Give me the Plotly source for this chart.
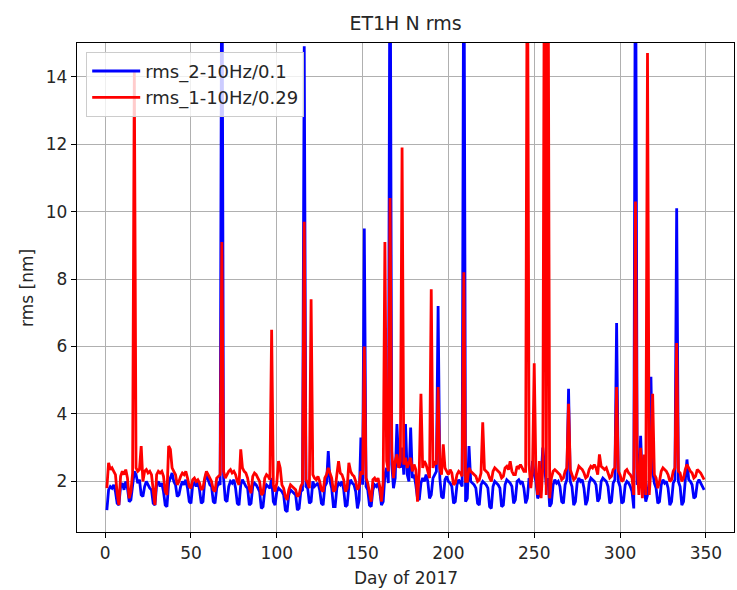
import plotly.graph_objects as go

days = list(range(1, 350))

blue_rms_2_10 = [
    1.15, 1.75, 1.85, 1.80, 1.90, 1.70, 1.35,
    1.30, 1.85, 1.95, 1.75, 2.00, 1.80, 1.40,
    1.45, 1.90, 2.30, 2.20, 1.95, 2.05, 1.60,
    1.55, 1.85, 2.00, 1.90, 1.80, 1.75, 1.35,
    1.30, 1.90, 2.00, 1.85, 1.95, 1.70, 1.30,
    1.25, 1.95, 2.10, 2.25, 2.00, 1.90, 1.55,
    1.60, 1.85, 2.00, 1.90, 2.05, 1.80, 1.40,
    1.35, 1.90, 1.95, 1.85, 2.00, 1.75, 1.35,
    1.40, 2.00, 2.25, 2.05, 1.90, 1.85, 1.40,
    1.35, 1.80, 1.95, 1.90, 20.0, 2.10, 1.45,
    1.40, 1.85, 2.00, 1.95, 2.05, 1.80, 1.35,
    1.30, 1.90, 2.05, 1.95, 1.85, 1.80, 1.30,
    1.35, 1.85, 1.95, 1.90, 1.80, 1.70, 1.20,
    1.25, 1.75, 1.90, 1.85, 1.80, 2.10, 1.40,
    1.30, 1.70, 1.80, 1.75, 1.70, 1.60, 1.15,
    1.10, 1.60, 1.75, 1.70, 1.65, 1.60, 1.15,
    1.20, 1.70, 1.75, 14.90, 1.85, 1.80, 1.35,
    1.40, 2.00, 1.85, 1.90, 1.95, 1.75, 1.35,
    1.30, 1.85, 1.95, 2.90, 2.00, 1.80, 1.25,
    1.25, 1.80, 1.95, 1.90, 2.00, 1.75, 1.25,
    1.30, 1.85, 2.05, 1.95, 1.90, 1.70, 1.20,
    1.45, 3.30, 1.90, 9.50, 1.85, 1.75, 1.30,
    1.25, 1.75, 1.90, 1.85, 1.95, 1.70, 1.30,
    1.40, 2.20, 2.40, 1.95, 20.0, 2.50, 1.80,
    2.10, 3.70, 2.60, 2.40, 3.00, 2.20, 3.70,
    2.20, 2.00, 3.60, 2.10, 2.20, 1.90, 1.50,
    1.45, 1.95, 2.10, 2.00, 2.20, 2.00, 1.50,
    1.60, 2.10, 2.20, 2.30, 7.20, 2.10, 1.55,
    1.50, 2.05, 2.15, 2.00, 1.95, 1.85, 1.35,
    1.40, 1.90, 2.05, 1.95, 1.85, 20.0, 1.40,
    1.50, 3.05, 2.00, 1.95, 1.90, 1.80, 1.35,
    1.30, 1.90, 2.00, 1.95, 1.90, 1.80, 1.25,
    1.20, 1.85, 2.00, 1.95, 1.90, 1.80, 1.25,
    1.30, 1.90, 2.05, 2.00, 1.95, 1.85, 1.35,
    1.45, 2.00, 2.05, 1.95, 2.00, 1.80, 1.35,
    1.50, 2.10, 2.00, 2.60, 2.20, 2.00, 1.50,
    1.60, 2.10, 3.00, 2.30, 1.90, 2.10, 1.25,
    1.35, 1.90, 2.05, 1.95, 2.00, 1.85, 1.40,
    1.35, 1.90, 2.05, 4.75, 2.00, 1.85, 1.30,
    1.40, 1.95, 2.10, 2.00, 2.05, 1.80, 1.30,
    1.45, 1.95, 2.10, 2.05, 2.00, 1.90, 1.40,
    1.50, 2.00, 2.10, 2.05, 2.00, 1.85, 1.35,
    1.40, 1.95, 2.05, 6.70, 2.00, 1.85, 1.35,
    1.40, 1.90, 2.00, 1.95, 1.85, 1.70, 1.20,
    20.0, 1.90, 2.00, 3.35, 1.95, 1.80, 1.40,
    1.60, 2.00, 5.10, 2.30, 1.95, 1.80, 1.35,
    1.40, 1.90, 2.05, 1.95, 2.00, 1.80, 1.30,
    1.40, 1.95, 2.05, 10.10, 2.00, 1.85, 1.30,
    1.40, 1.95, 2.65, 2.05, 2.00, 1.90, 1.50,
    1.55, 1.95, 2.05, 1.95, 1.85, 1.75,
]

red_rms_1_10 = [
    1.80, 2.55, 2.35, 2.40, 2.30, 2.20, 1.65,
    1.30, 2.15, 2.30, 2.20, 2.35, 2.10, 1.50,
    1.70, 2.25, 14.20, 2.40, 2.30, 2.35, 3.05,
    2.00, 2.30, 2.35, 2.25, 2.30, 2.20, 1.80,
    1.30, 2.20, 2.30, 2.25, 2.30, 2.15, 1.70,
    1.60, 3.05, 2.95, 2.40, 2.30, 2.20, 1.90,
    2.00, 2.15, 2.25, 2.20, 2.30, 2.10, 1.85,
    1.80, 2.05, 2.10, 2.00, 2.05, 1.95, 1.75,
    1.80, 2.10, 2.30, 2.20, 2.10, 2.00, 1.75,
    1.70, 2.10, 2.15, 2.20, 9.10, 2.30, 2.10,
    2.20, 2.30, 2.35, 2.25, 2.30, 2.20, 2.00,
    1.90, 2.95, 2.40, 2.30, 2.25, 2.10, 1.80,
    1.65, 2.15, 2.25, 2.20, 2.10, 2.00, 1.60,
    1.65, 2.10, 2.20, 2.15, 2.05, 6.50, 1.90,
    1.70, 1.95, 2.60, 2.40, 1.90, 1.80, 1.55,
    1.45, 1.75, 1.90, 1.85, 1.80, 1.75, 1.55,
    1.60, 1.85, 1.95, 9.70, 2.05, 1.95, 1.80,
    7.40, 2.20, 2.10, 2.05, 2.15, 2.00, 1.75,
    1.70, 2.10, 2.20, 2.40, 2.25, 2.10, 1.70,
    1.75, 2.20, 2.60, 2.25, 2.20, 2.05, 1.70,
    1.80, 2.55, 2.30, 2.20, 2.15, 2.00, 1.75,
    1.85, 2.30, 2.20, 6.00, 2.10, 1.95, 1.60,
    1.40, 2.05, 2.10, 2.00, 2.10, 1.85, 1.40,
    2.00, 9.10, 2.60, 2.30, 10.40, 2.90, 2.10,
    2.60, 2.80, 2.40, 2.60, 11.90, 2.50, 2.70,
    2.40, 2.55, 2.70, 2.30, 2.50, 2.35, 1.40,
    2.30, 4.60, 2.40, 2.60, 2.50, 2.30, 2.10,
    7.70, 2.40, 2.60, 2.50, 4.80, 2.40, 2.20,
    3.10, 2.40, 2.30, 2.20, 2.35, 2.25, 1.90,
    1.95, 2.20, 2.30, 2.25, 2.15, 8.20, 2.00,
    2.00, 2.40, 2.30, 2.25, 2.20, 2.15, 2.00,
    2.05, 2.25, 3.75, 2.35, 2.30, 2.25, 2.10,
    2.00, 2.30, 2.40, 2.35, 2.30, 2.25, 2.10,
    2.15, 2.40, 2.45, 2.35, 2.60, 2.30, 2.20,
    2.20, 2.45, 2.40, 2.50, 2.40, 2.30, 2.30,
    20.0, 2.50, 1.80, 2.30, 5.50, 2.20, 1.60,
    2.60, 1.50, 2.40, 20.0, 1.60, 20.0, 1.50,
    2.10, 2.30, 2.35, 2.30, 2.25, 2.20, 2.05,
    2.10, 2.30, 2.40, 4.30, 2.35, 2.20, 2.05,
    2.10, 2.30, 2.45, 2.40, 2.35, 2.25, 2.10,
    2.15, 2.35, 2.45, 2.40, 2.50, 2.40, 2.20,
    2.80, 2.45, 2.40, 2.35, 2.40, 2.25, 2.10,
    2.15, 2.35, 2.40, 4.80, 2.30, 2.20, 2.00,
    2.05, 2.30, 2.35, 2.25, 2.20, 2.10, 1.60,
    10.30, 2.40, 1.60, 3.00, 1.50, 2.80, 1.60,
    14.70, 1.60, 2.40, 4.60, 2.20, 2.10, 1.80,
    2.00, 2.30, 2.40, 2.35, 2.30, 2.20, 2.00,
    2.05, 2.30, 2.40, 6.10, 2.30, 2.25, 2.00,
    2.10, 2.35, 2.50, 2.40, 2.30, 2.25, 2.10,
    2.15, 2.35, 2.30, 2.25, 2.15, 2.05,
]

x_ticks = [0, 50, 100, 150, 200, 250, 300, 350]
y_ticks = [2, 4, 6, 8, 10, 12, 14]

FONT = "DejaVu Sans"
TXT = "#262626"

fig = go.Figure()
fig.add_trace(go.Scatter(x=days, y=blue_rms_2_10, mode="lines", name="rms_2-10Hz/0.1",
                         line=dict(color="#0000ff", width=2.8)))
fig.add_trace(go.Scatter(x=days, y=red_rms_1_10, mode="lines", name="rms_1-10Hz/0.29",
                         line=dict(color="#ff0000", width=2.8)))

axis_common = dict(
    showline=True, linecolor="black", linewidth=1.3, mirror=True,
    showgrid=True, gridcolor="#b0b0b0", gridwidth=1.1,
    ticks="outside", ticklen=5, tickcolor="black", tickwidth=1.1,
    zeroline=False,
    tickfont=dict(family=FONT, size=17, color=TXT),
)

fig.update_layout(
    width=737, height=590,
    margin=dict(l=77, r=3, t=43, b=58),
    paper_bgcolor="white", plot_bgcolor="white",
    font=dict(family=FONT, color=TXT),
    title=dict(text="ET1H N rms", x=0.5, xref="paper", xanchor="center",
               y=1 - 23 / 590, yref="container", yanchor="middle",
               font=dict(family=FONT, size=19, color=TXT)),
    xaxis=dict(range=[-16.4, 366.4], tickvals=x_ticks, **axis_common),
    yaxis=dict(range=[0.5, 15], tickvals=y_ticks, **axis_common),
    legend=dict(x=0.014, y=0.982, xanchor="left", yanchor="top",
                bgcolor="rgba(255,255,255,0.8)", bordercolor="#cccccc", borderwidth=1,
                font=dict(family=FONT, size=18, color=TXT),
                itemwidth=48),
    showlegend=True,
    annotations=[
        dict(text="Day of 2017", xref="paper", yref="paper", x=0.5, y=-0.095,
             xanchor="center", yanchor="middle", showarrow=False,
             font=dict(family=FONT, size=17, color=TXT)),
        dict(text="rms [nm]", xref="paper", yref="paper", x=-0.077, y=0.5,
             xanchor="center", yanchor="middle", showarrow=False, textangle=-90,
             font=dict(family=FONT, size=17, color=TXT)),
    ],
)

fig.write_html("out.html")
